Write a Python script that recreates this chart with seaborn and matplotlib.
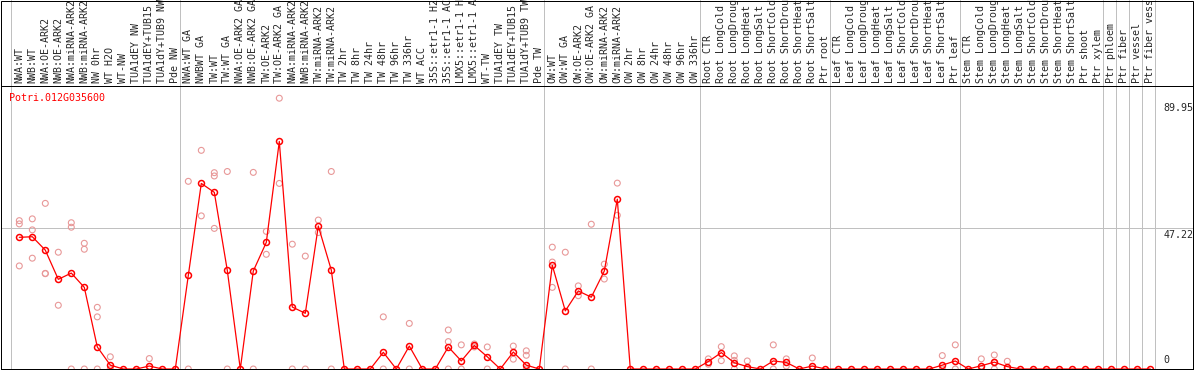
import numpy as np
import pandas as pd
import seaborn as sns
import matplotlib.pyplot as plt
from matplotlib.patches import Rectangle
from matplotlib.transforms import ScaledTranslation

gene = "Potri.012G035600"

samples = [
    "NWA:WT", "NWB:WT", "NWA:OE-ARK2", "NWB:OE-ARK2", "NWA:miRNA-ARK2", "NWB:miRNA-ARK2",
    "NW 0hr", "WT H2O", "WT-NW", "TUA1dEY NW", "TUA1dEY+TUB15 NW", "TUA1dY+TUB9 NW", "Pde NW",
    "NWA:WT GA", "NWBWT GA", "TW:WT", "TW:WT GA", "NWA:OE-ARK2 GA", "NWB:OE-ARK2 GA",
    "TW:OE-ARK2", "TW:OE-ARK2 GA", "NWA:miRNA-ARK2", "NWB:miRNA-ARK2", "TW:miRNA-ARK2",
    "TW:miRNA-ARK2", "TW 2hr", "TW 8hr", "TW 24hr", "TW 48hr", "TW 96hr", "TW 336hr",
    "WT ACC", "35S::etr1-1 H2O", "35S::etr1-1 ACC", "LMX5::etr1-1 H2O", "LMX5::etr1-1 ACC",
    "WT-TW", "TUA1dEY TW", "TUA1dEY+TUB15 TW", "TUA1dY+TUB9 TW", "Pde TW",
    "OW:WT", "OW:WT GA", "OW:OE-ARK2", "OW:OE-ARK2 GA", "OW:miRNA-ARK2", "OW:miRNA-ARK2",
    "OW 2hr", "OW 8hr", "OW 24hr", "OW 48hr", "OW 96hr", "OW 336hr",
    "Root CTR", "Root LongCold", "Root LongDrought", "Root LongHeat", "Root LongSalt",
    "Root ShortCold", "Root ShortDrought", "Root ShortHeat", "Root ShortSalt", "Ptr root",
    "Leaf CTR", "Leaf LongCold", "Leaf LongDrought", "Leaf LongHeat", "Leaf LongSalt",
    "Leaf ShortCold", "Leaf ShortDrought", "Leaf ShortHeat", "Leaf ShortSalt", "Ptr leaf",
    "Stem CTR", "Stem LongCold", "Stem LongDrought", "Stem LongHeat", "Stem LongSalt",
    "Stem ShortCold", "Stem ShortDrought", "Stem ShortHeat", "Stem ShortSalt", "Ptr shoot",
    "Ptr xylem", "Ptr phloem", "Ptr fiber", "Ptr vessel", "Ptr fiber vessel",
]

means = [
    44.2, 44.4, 39.9, 30.1, 32.2, 27.4, 7.4, 1.3, 0, 0, 1.0, 0, 0,
    31.4, 62.3, 59.3, 33.1, 0, 32.9, 42.5, 76.4, 20.8, 18.7, 48.0, 33.2,
    0, 0, 0, 5.6, 0, 7.7, 0, 0, 7.4, 2.7, 7.9, 4.1, 0, 5.7, 1.3, 0,
    34.8, 19.5, 26.2, 24.1, 32.9, 57.0, 0, 0, 0, 0, 0, 0,
    2.5, 5.5, 2.1, 0.8, 0, 2.7, 2.2, 0, 1.0, 0,
    0, 0, 0, 0, 0, 0, 0, 0, 1.3, 2.7,
    0, 1.1, 2.3, 0.8, 0, 0, 0, 0, 0, 0,
    0, 0, 0, 0, 0,
]

# replicate points: column index (0-based) and value
rep_col = [
    0, 0, 0, 1, 1, 1, 2, 2, 2, 3, 3, 4, 4, 4, 5, 5, 5, 6, 6, 6, 7, 7, 10,
    13, 13, 14, 14, 15, 15, 15, 16, 16, 18, 18, 19, 19, 20, 20, 21, 21, 22, 22,
    23, 23, 24, 24, 28, 28, 30, 30, 33, 33, 33, 34, 34, 35, 35, 36, 36, 38, 38,
    39, 39, 39, 41, 41, 41, 42, 42, 43, 43, 44, 44, 45, 45, 46, 46,
    53, 53, 54, 54, 55, 55, 55, 56, 56, 58, 58, 59, 59, 61, 61,
    71, 71, 72, 72, 74, 74, 75, 75, 75, 76, 76,
]
rep_val = [
    49.8, 48.7, 34.6, 50.4, 46.7, 37.2, 55.6, 32.1, 32.0, 39.2, 21.4, 49.1, 47.6, 0,
    42.2, 40.2, 0, 20.7, 17.5, 0, 4.1, 0, 3.5,
    63.0, 0, 73.4, 51.4, 65.9, 64.8, 47.2, 66.3, 0, 66.0, 0, 46.2, 38.5, 90.9, 62.3,
    41.9, 0, 37.9, 0, 50.0, 45.8, 66.3, 0, 17.5, 0, 15.3, 0, 13.1, 9.2, 0, 8.1, 0,
    8.4, 7.4, 7.4, 0, 7.7, 3.3, 6.1, 4.6, 0, 40.9, 35.9, 27.4, 39.2, 0, 27.9, 24.6,
    48.6, 0, 35.2, 30.2, 62.4, 51.6,
    3.4, 1.6, 7.5, 2.8, 4.4, 2.9, 0, 2.7, 0, 8.1, 0, 3.4, 1.0, 3.7, 0,
    4.5, 0, 8.1, 0, 3.4, 0, 4.7, 2.3, 0, 2.6, 0,
]

group_starts = [0, 13, 41, 53, 63, 73, 84, 85, 86, 87, 88]
ytick_vals = [0, 47.22, 89.95]
ytick_text = ["0", "47.22", "89.95"]

sns.set_style("white")
plt.rcParams["font.family"] = ["DejaVu Sans Mono"]

W, H = 1194, 370
fig = plt.figure(figsize=(W / 100, H / 100), dpi=100)
left, right, top, bottom = 1, 1193, 85.5, 369
ax = fig.add_axes([left / W, (H - bottom) / H, (right - left) / W, (bottom - top) / H])

x0, step = 19.3, 13.0
ax.set_xlim((left - x0) / step, (right - x0) / step)
ax.set_ylim(0, (bottom - top) / 2.979)

grey = "#c0c0c0"
for s in group_starts:
    ax.axvline(s - 0.65, ymin=0, ymax=bottom / (bottom - top), color=grey, lw=0.72,
               clip_on=False, zorder=0.5)
ax.axhline(47.22, color=grey, lw=0.72, zorder=0.5)

df_rep = pd.DataFrame({"idx": rep_col, "expr": rep_val})
sns.scatterplot(data=df_rep, x="idx", y="expr", ax=ax, s=18, marker="o",
                clip_on=False, zorder=2, legend=False)
pts = ax.collections[-1]
pts.set_facecolor("none")
pts.set_edgecolor("#e89898")
pts.set_linewidth(0.8)

df_mean = pd.DataFrame({"idx": np.arange(len(means)), "expr": means})
sns.lineplot(data=df_mean, x="idx", y="expr", ax=ax, color="red", linewidth=0.9,
             marker="o", markersize=4.3, markerfacecolor="none",
             markeredgecolor="red", markeredgewidth=1.1, clip_on=False, zorder=3)

for sp in ax.spines.values():
    sp.set_color("black")
    sp.set_linewidth(0.72)

ax.xaxis.tick_top()
ax.set_xticks(np.arange(len(samples)))
ax.set_xticklabels(samples, rotation=90, fontsize=7.2)
ax.tick_params(axis="x", length=0, pad=2.0)

ax.yaxis.tick_right()
ax.set_yticks(ytick_vals)
ax.set_yticklabels(ytick_text, fontsize=7.2)
ax.tick_params(axis="y", length=0, pad=-21.2)
for lab in ax.get_yticklabels():
    lab.set_ha("left")
    if lab.get_text() == "0":
        lab.set_va("bottom")
        lab.set_transform(lab.get_transform() + ScaledTranslation(0, 4 / 100, fig.dpi_scale_trans))
    else:
        lab.set_va("top")
        lab.set_transform(lab.get_transform() + ScaledTranslation(0, -1.5 / 100, fig.dpi_scale_trans))
ax.set_xlabel("")
ax.set_ylabel("")

ax.annotate(gene, xy=(0, 1), xycoords="axes fraction", xytext=(5.6, -5.4),
            textcoords="offset points", color="red", ha="left", va="top", fontsize=7.2)

fig.add_artist(Rectangle((0.5 / W, (H - bottom) / H), (right - 0.5) / W, (bottom - 0.5) / H,
                         transform=fig.transFigure, fill=False, ec="black", lw=0.72))

fig.savefig("out.png", dpi=100)
